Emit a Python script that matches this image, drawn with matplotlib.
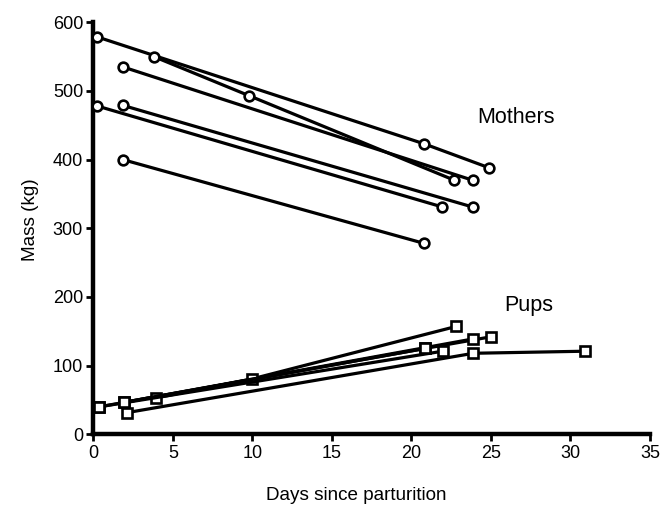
import matplotlib
matplotlib.use("Agg")
import matplotlib.pyplot as plt

plt.rcParams['font.family'] = ['Liberation Sans', 'DejaVu Sans']

# Mothers (circles): each list is one individual's series
mother_days = [
    [0.2, 20.8, 24.9],
    [3.8, 9.8, 22.7],
    [1.85, 23.85],
    [0.25, 21.95],
    [1.85, 23.85],
    [1.85, 20.8],
]
mother_mass = [
    [579, 423, 388],
    [550, 493, 370],
    [535, 370],
    [478, 331],
    [479, 331],
    [400, 278],
]

# Pups (squares)
pup_days = [
    [0.36, 20.85, 25.0],
    [3.93, 9.95, 22.8],
    [1.94, 23.9],
    [0.36, 21.96],
    [2.09, 23.9, 30.9],
    [1.94, 20.85],
]
pup_mass = [
    [40, 125, 142],
    [53, 80.5, 157],
    [46.6, 139],
    [40, 121],
    [31.5, 118, 121],
    [46.6, 125],
]

x_ticks = [0, 5, 10, 15, 20, 25, 30, 35]
y_ticks = [0, 100, 200, 300, 400, 500, 600]

fig = plt.figure(figsize=(6.64, 5.07), dpi=100)
ax = fig.add_axes([0.1408, 0.1434, 0.838, 0.8126])

for d, m in zip(mother_days, mother_mass):
    ax.plot(d, m, color='black', lw=2.3, marker='o', ms=7,
            mfc='white', mec='black', mew=1.9, zorder=3, clip_on=False)
for d, m in zip(pup_days, pup_mass):
    ax.plot(d, m, color='black', lw=2.3, marker='s', ms=6.8,
            mfc='white', mec='black', mew=1.9, zorder=3, clip_on=False)

ax.set_xlim(0, 35)
ax.set_ylim(0, 600)
ax.set_xticks(x_ticks)
ax.set_yticks(y_ticks)
ax.set_xticklabels([str(t) for t in x_ticks])
ax.set_yticklabels([str(t) for t in y_ticks])

for s in ['top', 'right']:
    ax.spines[s].set_visible(False)
for s in ['left', 'bottom']:
    ax.spines[s].set_linewidth(3.2)
    ax.spines[s].set_capstyle('projecting')

ax.tick_params(axis='both', direction='out', length=5, width=2,
               labelsize=13, color='black', pad=2.5)

ax.set_xlabel('Days since parturition', fontsize=13.6, va='center')
ax.set_ylabel('Mass (kg)', fontsize=13.6, va='center')
ax.xaxis.set_label_coords(0.472, -0.148)
ax.yaxis.set_label_coords(-0.114, 0.52)

ax.text(26.6, 462, 'Mothers', fontsize=15.5, ha='center', va='center')
ax.text(27.4, 188, 'Pups', fontsize=15.5, ha='center', va='center')

fig.savefig('out.png', dpi=100)
